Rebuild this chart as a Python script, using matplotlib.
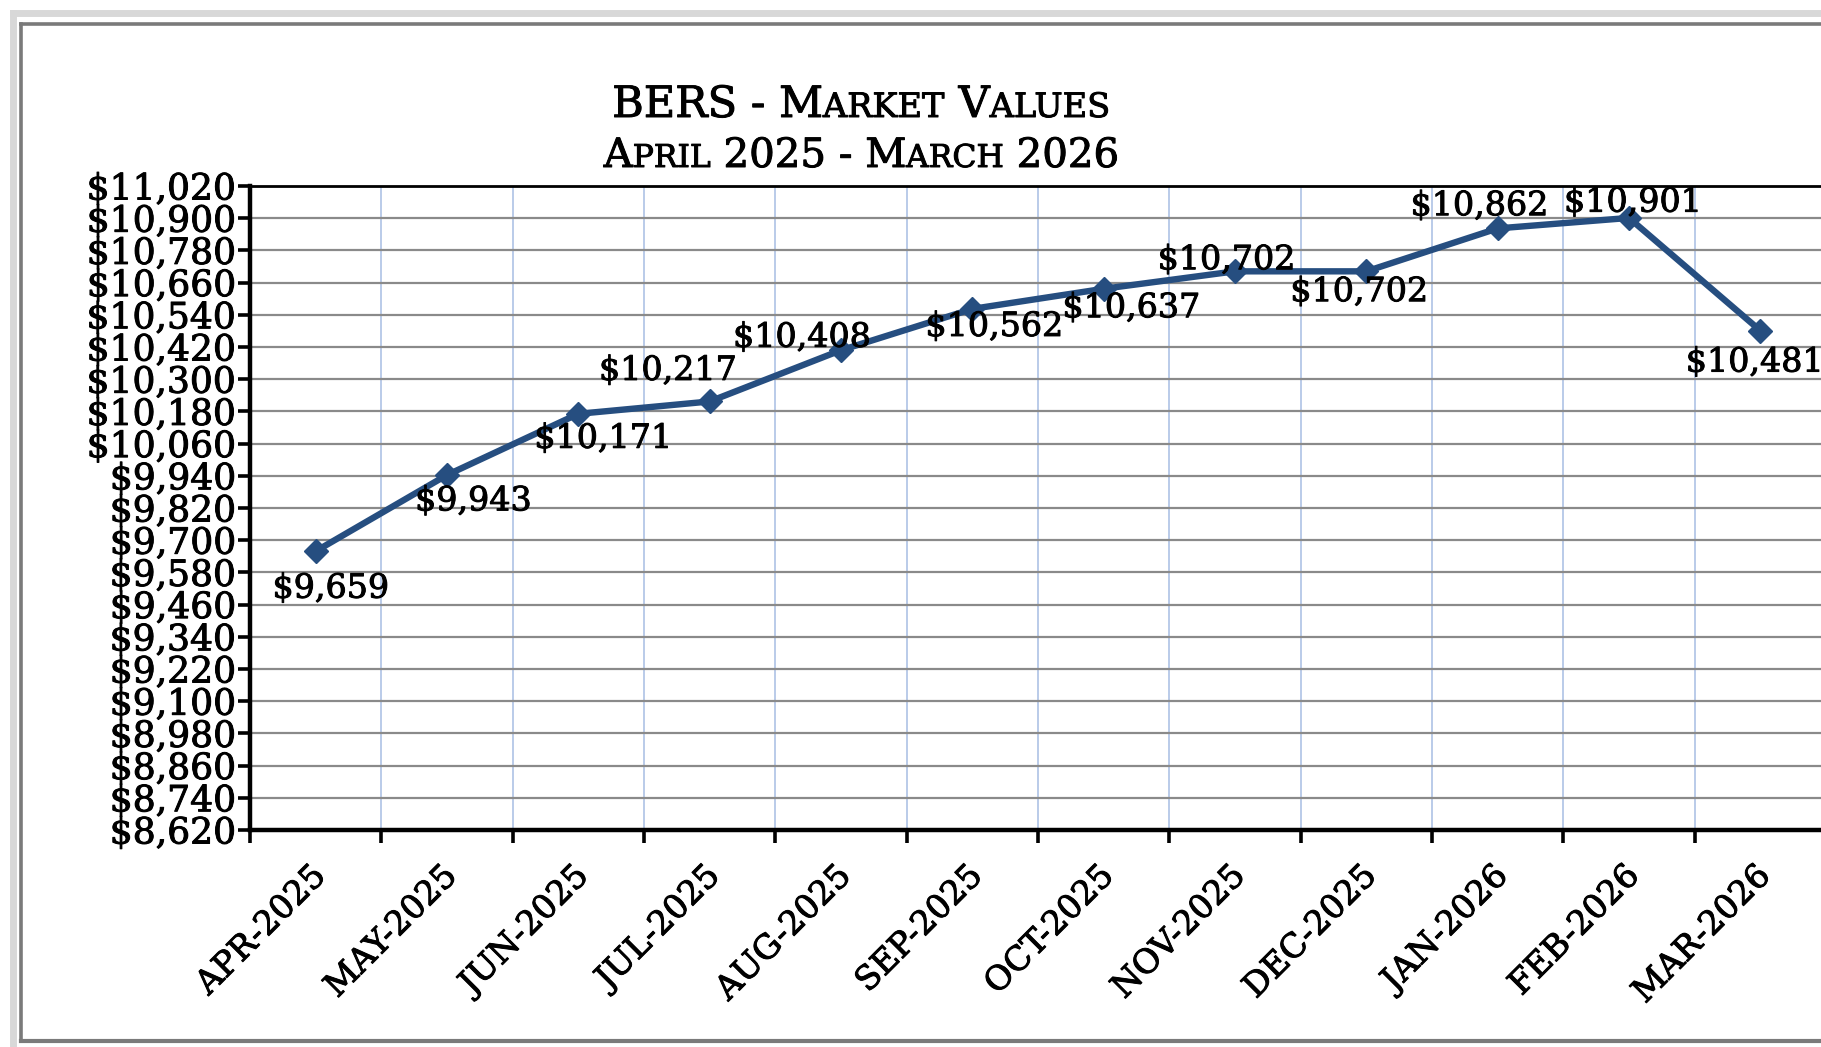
import numpy as np
import matplotlib
matplotlib.use('Agg')
import matplotlib.pyplot as plt
import matplotlib.patheffects as pe
import matplotlib.transforms as mtrans
from matplotlib.lines import Line2D

# BERS market values, Apr 2025 - Mar 2026 ($ thousands)
months = ['APR-2025', 'MAY-2025', 'JUN-2025', 'JUL-2025', 'AUG-2025', 'SEP-2025',
          'OCT-2025', 'NOV-2025', 'DEC-2025', 'JAN-2026', 'FEB-2026', 'MAR-2026']
values = [9659, 9943, 10171, 10217, 10408, 10562,
          10637, 10702, 10702, 10862, 10901, 10481]
y_min = 8620
y_max = 11020
y_step = 120

# label offsets (points) so the labels sit where the original put them
lab_off = [(11, -27), (19, -19), (18, -18), (-30, 22), (-28, 9), (16, -13),
           (20, -14), (-6, 8), (-5, -15), (-13, 16), (3, 11), (-4, -23)]

serif = 'DejaVu Serif'
plt.rcParams['font.family'] = serif
line_col = '#264e80'
heavy = [pe.withStroke(linewidth=0.7, foreground='black')]

fig = plt.figure(figsize=(18.21, 10.47), dpi=100)
fig.patch.set_facecolor('white')

# frame round the chart (shadow + dark edge), runs off to the right
W, H = 1821., 1047.
def fx(p): return p / W
def fy(p): return 1 - p / H
for (x0, y0, y1, c, lw) in [(13, 13, 1047, '#d8d8d8', 5), (21, 24, 1041, '#7a7a7a', 2.6)]:
    fig.add_artist(Line2D([fx(x0), fx(x0)], [fy(y0), fy(y1)], color=c, lw=lw))
    fig.add_artist(Line2D([fx(x0), 1.01], [fy(y0), fy(y0)], color=c, lw=lw))
fig.add_artist(Line2D([fx(21), 1.01], [fy(1041), fy(1041)], color='#7a7a7a', lw=3))

ax = fig.add_axes([250/W, 1 - 830/H, 1576/W, (830-186)/H])
x = np.arange(len(months))
ax.set_xlim(-0.5, len(months) - 0.5)
ax.set_ylim(y_min, y_max)

yt = np.arange(y_min, y_max + 1, y_step)
ax.set_yticks(yt)
ax.set_yticklabels(['${:,}'.format(v) for v in yt], fontsize=26)
ax.tick_params(axis='y', direction='out', length=9, width=2.6, pad=1, color='black')

ax.set_xticks(x)
ax.set_xticklabels(months, rotation=45, ha='right', va='top', rotation_mode='anchor', fontsize=24)
ax.set_xticks(np.append(x - 0.5, x[-1] + 0.5), minor=True)
ax.tick_params(axis='x', which='major', length=0, pad=21)
ax.tick_params(axis='x', which='minor', direction='out', length=9, width=2.6, color='black')
shift = mtrans.ScaledTranslation(-4/72, 0, fig.dpi_scale_trans)
for t in ax.get_xticklabels():
    t.set_transform(t.get_transform() + shift)
for t in ax.get_xticklabels() + ax.get_yticklabels():
    t.set_path_effects(heavy)

ax.grid(axis='y', which='major', color='#8a8a8a', lw=1.6)
ax.grid(axis='x', which='minor', color='#b4c7e7', lw=1.3)
ax.set_axisbelow(True)

for s in ['left', 'bottom']:
    ax.spines[s].set_linewidth(3.2)
ax.spines['top'].set_linewidth(2)
ax.spines['right'].set_visible(False)

ax.plot(x, values, color=line_col, lw=4.6, marker='D', ms=12, mfc=line_col, mec=line_col,
        clip_on=False, zorder=3)

for i, v in enumerate(values):
    ax.annotate('${:,}'.format(v), (x[i], v), xytext=lab_off[i], textcoords='offset points',
                ha='center', va='center', fontsize=24, color='black', annotation_clip=False,
                path_effects=heavy)

# title with small caps made by hand
def small_caps(parts, y, xc, size):
    r = fig.canvas.get_renderer()
    tt = []
    for s, big in parts:
        t = fig.text(0, y, s, fontsize=size if big else size * 0.78, va='baseline', ha='left',
                     path_effects=heavy)
        tt.append((t, t.get_window_extent(r).width))
    tot = sum(w for _, w in tt)
    xp = xc * fig.bbox.width - tot / 2
    for t, w in tt:
        t.set_x(xp / fig.bbox.width)
        xp += w

small_caps([('BERS - M', 1), ('ARKET', 0), (' V', 1), ('ALUES', 0)], fy(117), 0.473, 31)
small_caps([('A', 1), ('PRIL', 0), (' 2025 - M', 1), ('ARCH', 0), (' 2026', 1)], fy(167), 0.473, 29)

fig.savefig('out.png', dpi=100)
